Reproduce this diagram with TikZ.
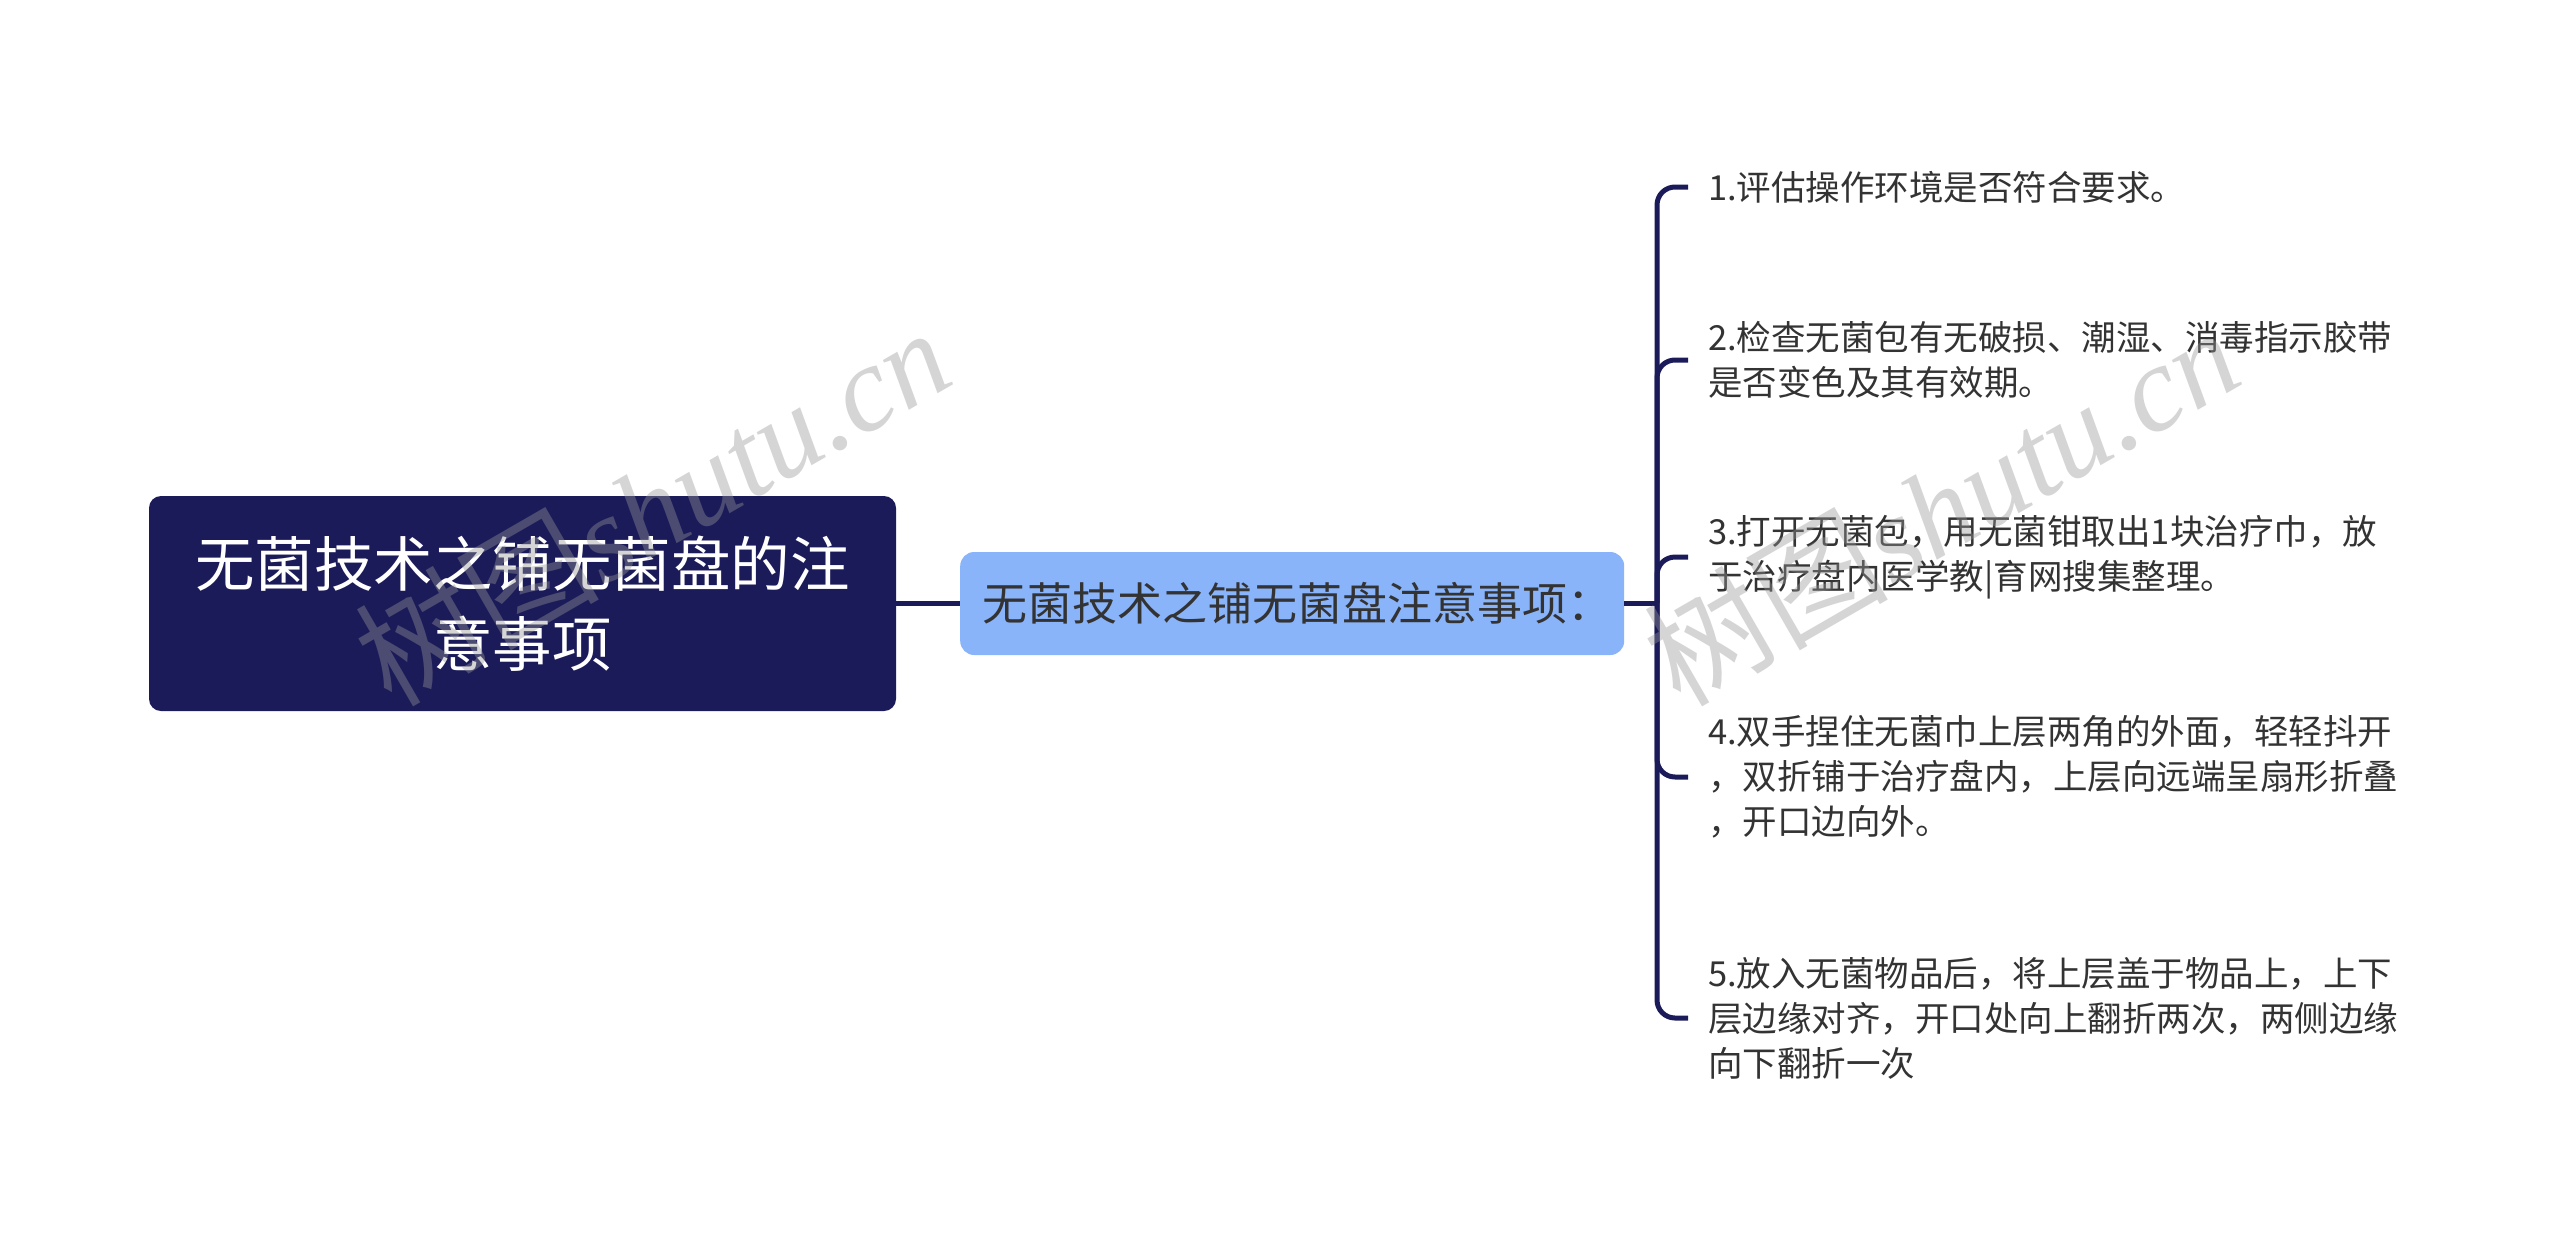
\documentclass[tikz,border=0pt]{standalone}
\usepackage{fontspec}
\setmainfont{Noto Sans CJK SC}
\newfontfamily\wmserif{Liberation Serif}
\usetikzlibrary{positioning}
\definecolor{navy}{RGB}{28,27,90}
\definecolor{midblue}{RGB}{138,180,250}
\definecolor{darktext}{RGB}{51,51,51}
\definecolor{wmgray}{RGB}{150,150,150}
\tikzset{
  rootbox/.style={fill=navy, text=white, rounded corners=12pt, inner sep=0pt,
    minimum width=747pt, minimum height=215pt, align=center,
    font=\fontsize{59.5}{80}\selectfont},
  midbox/.style={fill=midblue, text=darktext, rounded corners=14pt, inner xsep=22pt, inner ysep=0pt,
    text width=620pt, minimum height=103pt, align=left,
    font=\fontsize{45}{52}\selectfont},
  leafbox/.style={text=darktext, inner xsep=20pt, inner ysep=0pt, anchor=west,
    text width=760pt, align=left, font=\fontsize{34.5}{45}\selectfont},
  conn/.style={draw=navy, line width=5pt},
  branch/.style={draw=navy, line width=5pt, rounded corners=18pt},
  wm/.style={text=wmgray, opacity=0.4, rotate=30, inner sep=0pt,
    font=\fontsize{122}{130}\selectfont}
}
\begin{document}
\begin{tikzpicture}[x=1pt,y=-1pt]
\useasboundingbox (0,0) rectangle (2560,1251);
\fill[white] (0,0) rectangle (2560,1251);

\node[rootbox] (root) at (522.5,603.5) {无菌技术之铺无菌盘的注\\意事项};
\node[midbox, anchor=west] (mid) at (960,603.5) {无菌技术之铺无菌盘注意事项：};
\coordinate (junc) at (1657,603.5);

\node[leafbox] (l1) at (1688,187) {1.评估操作环境是否符合要求。};
\node[leafbox] (l2) at (1688,360) {2.检查无菌包有无破损、潮湿、消毒指示胶带\\是否变色及其有效期。};
\node[leafbox] (l3) at (1688,557) {3.打开无菌包，用无菌钳取出1块治疗巾，放\\于治疗盘内医学教|育网搜集整理。};
\node[leafbox] (l4) at (1688,777) {4.双手捏住无菌巾上层两角的外面，轻轻抖开\\，双折铺于治疗盘内，上层向远端呈扇形折叠\\，开口边向外。};
\node[leafbox] (l5) at (1688,1018) {5.放入无菌物品后，将上层盖于物品上，上下\\层边缘对齐，开口处向上翻折两次，两侧边缘\\向下翻折一次};

\draw[conn, line width=4.5pt] (root.east) -- (mid.west);
\draw[conn, line width=4.5pt] (mid.east) -- (junc);
\foreach \n in {l1,l2,l3,l4,l5}{
  \draw[branch] (junc) |- (\n.west);
}

\node[wm] (wm1) at (652,505) {树图{\wmserif\itshape shutu.cn}};
\node[wm] (wm2) at (1941,505) {树图{\wmserif\itshape shutu.cn}};
\end{tikzpicture}
\end{document}
